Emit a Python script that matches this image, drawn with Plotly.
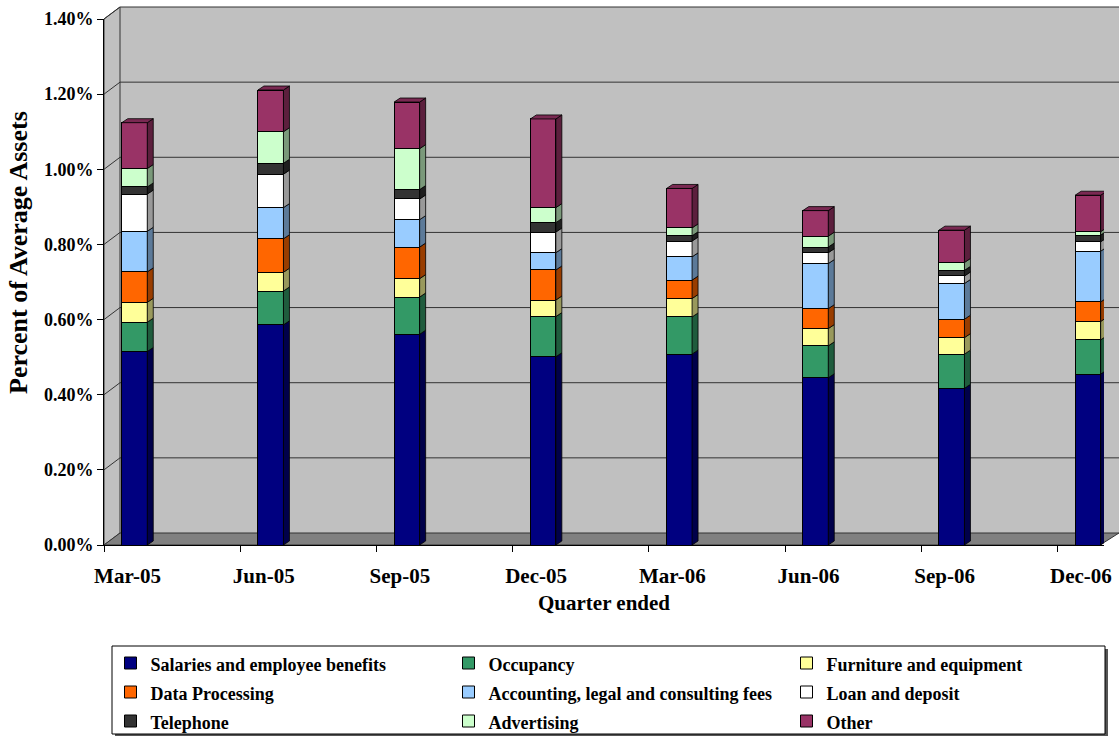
import numpy as np
import plotly.graph_objects as go

# ---------------- data (percent of average assets) ----------------
quarters = ["Mar-05", "Jun-05", "Sep-05", "Dec-05", "Mar-06", "Jun-06", "Sep-06", "Dec-06"]
salaries = [0.515, 0.586, 0.561, 0.501, 0.508, 0.445, 0.417, 0.455]
occupancy = [0.078, 0.090, 0.099, 0.107, 0.099, 0.085, 0.091, 0.091]
furniture = [0.053, 0.050, 0.049, 0.044, 0.049, 0.046, 0.044, 0.049]
data_processing = [0.081, 0.089, 0.084, 0.080, 0.049, 0.053, 0.049, 0.052]
accounting = [0.108, 0.083, 0.073, 0.046, 0.062, 0.120, 0.095, 0.135]
loan_deposit = [0.099, 0.089, 0.055, 0.055, 0.042, 0.029, 0.020, 0.025]
telephone = [0.019, 0.029, 0.025, 0.025, 0.014, 0.015, 0.015, 0.018]
advertising = [0.049, 0.084, 0.109, 0.040, 0.021, 0.029, 0.021, 0.009]
other = [0.122, 0.111, 0.124, 0.236, 0.105, 0.068, 0.086, 0.097]
y_ticks = [0.0, 0.2, 0.4, 0.6, 0.8, 1.0, 1.2, 1.4]
y_ticktext = [f"{v:.2f}%" for v in y_ticks]

series = [
    ("Salaries and employee benefits", salaries, "#000080", "#00004a"),
    ("Occupancy", occupancy, "#339966", "#1f5c3d"),
    ("Furniture and equipment", furniture, "#FFFF99", "#99995c"),
    ("Data Processing", data_processing, "#FF6600", "#993d00"),
    ("Accounting, legal and consulting fees", accounting, "#99CCFF", "#5c7a99"),
    ("Loan and deposit", loan_deposit, "#FFFFFF", "#999999"),
    ("Telephone", telephone, "#333333", "#1f1f1f"),
    ("Advertising", advertising, "#CCFFCC", "#7a997a"),
    ("Other", other, "#993366", "#5c1f3d"),
]
third_column = ("Furniture and equipment", "Loan and deposit", "Other")

# ---------------- geometry / style ----------------
W, H = 1119, 736
ML, MR, MT, MB = 104, 15, 19, 191
PW, PH = W - ML - MR, H - MT - MB
YMAX = 1.4
UNIT = 136.2                      # px per category
X0 = -(127.5 - ML) / UNIT          # axis start in category units
X1 = X0 + PW / UNIT
BAR_SHIFT = 7.0 / UNIT
BAR_W = 25.5 / UNIT
DX = 6.0 / UNIT
DY = 4.0 / (PH / YMAX)
WALL_DX, WALL_DY = 16, 12
FONT = "Liberation Serif"

def xp(px):
    return (px - ML) / PW

def yp(py):
    return (MT + PH - py) / PH

def ty(v):
    return MT + PH - v / YMAX * PH

def path(pts):
    return "M " + " L ".join(f"{xp(a):.5f},{yp(b):.5f}" for a, b in pts) + " Z"

def openpath(pts):
    return "M " + " L ".join(f"{xp(a):.5f},{yp(b):.5f}" for a, b in pts)

xpos = np.arange(len(quarters)) + BAR_SHIFT

fig = go.Figure()

# front faces
for name, vals, col, side in series:
    fig.add_trace(go.Bar(
        x=xpos, y=vals, width=BAR_W,
        name=f'<span style="font-size:18px">{name}</span>',
        legendwidth=280 if name in third_column else 293,
        marker=dict(color=col, line=dict(color="black", width=1)),
        hoverinfo="skip",
    ))

# side and top faces (3-D look), computed from the stacked values
cum = np.zeros(len(quarters))
for k, (name, vals, col, side) in enumerate(series):
    v = np.array(vals)
    base, top = cum.copy(), cum + v
    xs, ys = [], []
    xr = xpos + BAR_W / 2
    for i in range(len(quarters)):
        xs += [xr[i], xr[i] + DX, xr[i] + DX, xr[i], xr[i], None]
        ys += [base[i], base[i] + DY, top[i] + DY, top[i], base[i], None]
    fig.add_trace(go.Scatter(x=xs, y=ys, mode="lines", fill="toself", fillcolor=side,
                             line=dict(color="black", width=0.8), showlegend=False,
                             hoverinfo="skip"))
    if k == len(series) - 1:
        xl = xpos - BAR_W / 2
        xs, ys = [], []
        for i in range(len(quarters)):
            xs += [xl[i], xl[i] + DX, xr[i] + DX, xr[i], xl[i], None]
            ys += [top[i], top[i] + DY, top[i] + DY, top[i], top[i], None]
        fig.add_trace(go.Scatter(x=xs, y=ys, mode="lines", fill="toself", fillcolor="#7a2952",
                                 line=dict(color="black", width=0.8), showlegend=False,
                                 hoverinfo="skip"))
    cum = top

# walls, floor and back-wall gridlines
y0 = ty(0)
shapes = [
    dict(type="path", path=path([(120, MT - WALL_DY), (W, MT - WALL_DY), (W, y0 - WALL_DY), (120, y0 - WALL_DY)]),
         xref="paper", yref="paper", fillcolor="#C0C0C0", line=dict(width=0), layer="below"),
    dict(type="path", path=path([(ML, MT), (ML + WALL_DX, MT - WALL_DY), (ML + WALL_DX, y0 - WALL_DY), (ML, y0)]),
         xref="paper", yref="paper", fillcolor="#C0C0C0", line=dict(color="#333333", width=1), layer="below"),
    dict(type="path", path=path([(ML, y0), (ML + WALL_DX, y0 - WALL_DY), (W, y0 - WALL_DY), (1100, y0)]),
         xref="paper", yref="paper", fillcolor="#808080", line=dict(color="#333333", width=1), layer="below"),
]
for v in y_ticks[1:]:
    t = ty(v)
    shapes.append(dict(type="path", path=openpath([(ML, t), (ML + WALL_DX, t - WALL_DY), (W, t - WALL_DY)]),
                       xref="paper", yref="paper", line=dict(color="#333333", width=1), layer="below"))
# legend frame with shadow
shapes.append(dict(type="rect", xref="paper", yref="paper",
                   x0=xp(115), x1=xp(1108), y0=yp(737), y1=yp(649),
                   fillcolor="#555555", line=dict(width=0), layer="above"))
shapes.append(dict(type="rect", xref="paper", yref="paper",
                   x0=xp(112), x1=xp(1105), y0=yp(734), y1=yp(646),
                   fillcolor="white", line=dict(color="black", width=1), layer="above"))

fig.update_layout(
    width=W, height=H,
    margin=dict(l=ML, r=MR, t=MT, b=MB, autoexpand=False),
    barmode="stack",
    paper_bgcolor="white",
    plot_bgcolor="rgba(0,0,0,0)",
    shapes=shapes,
    font=dict(family=FONT, color="black", weight="bold"),
    xaxis=dict(
        range=[X0, X1], tickmode="array", tickvals=list(range(len(quarters))), ticktext=quarters,
        ticks="outside", ticklen=12, tickcolor="rgba(0,0,0,0)",
        tickfont=dict(family=FONT, size=21, weight="bold"),
        showline=True, linecolor="black", linewidth=1, showgrid=False, zeroline=False,
        minor=dict(tickmode="array", tickvals=[X0 + k for k in range(len(quarters))],
                   ticks="outside", ticklen=6, tickcolor="black", showgrid=False),
        title=dict(text="Quarter ended", font=dict(family=FONT, size=21, weight="bold"), standoff=8),
    ),
    yaxis=dict(
        range=[0, YMAX], tickmode="array", tickvals=y_ticks, ticktext=y_ticktext,
        ticks="outside", ticklen=6, tickcolor="black",
        tickfont=dict(family=FONT, size=18, weight="bold"),
        showline=True, linecolor="black", linewidth=1, showgrid=False, zeroline=False,
    ),
    annotations=[dict(
        text="Percent of Average Assets", textangle=-90, showarrow=False,
        xref="paper", yref="paper", x=xp(18), y=yp(253), xanchor="center", yanchor="middle",
        font=dict(family=FONT, size=26, weight="bold"),
    )],
    legend=dict(
        orientation="h", x=xp(1111.5), xanchor="right", y=yp(643.5), yanchor="top",
        entrywidthmode="pixels",
        bgcolor="rgba(0,0,0,0)", borderwidth=0,
        font=dict(family=FONT, size=20, weight="bold"),
        traceorder="normal",
    ),
)

fig.write_html("out.html")
